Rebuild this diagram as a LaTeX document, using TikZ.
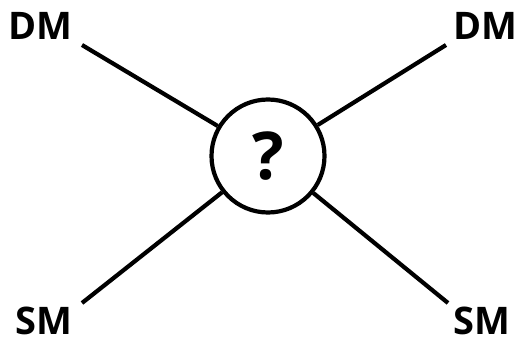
\documentclass[tikz,border=0pt]{standalone}
\usepackage{fontspec}
\setmainfont{Open Sans}
\begin{document}
\begin{tikzpicture}[x=1pt, y=-1pt, line width=4.2pt,
		label/.style={font=\fontsize{38}{38}\selectfont\bfseries, inner sep=0pt},
		hub/.style={draw, circle, minimum size=113pt, inner sep=0pt}]
		\useasboundingbox (0,0) rectangle (521,344);
		% Central circle
		\node[hub] (q) at (268,156) {\fontsize{66}{66}\selectfont\bfseries ?};
		% Labels
		\node[label] (dml) at (40,26) {DM};
		\node[label] (dmr) at (485,26) {DM};
		\node[label] (sml) at (44,321) {SM};
		\node[label] (smr) at (482,321) {SM};
		% Line ends near labels
		\coordinate (a) at (82,45);
		\coordinate (b) at (446,45);
		\coordinate (c) at (82,303);
		\coordinate (d) at (448,303);
		% Connectors
		\draw (a) -- (q);
		\draw (b) -- (q);
		\draw (c) -- (q);
		\draw (d) -- (q);
	\end{tikzpicture}
\end{document}
